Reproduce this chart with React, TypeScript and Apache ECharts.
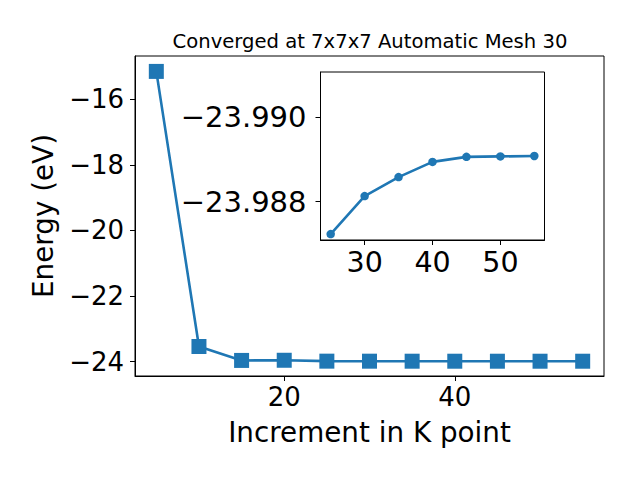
import React, { useEffect, useRef } from "react";
import * as echarts from "echarts";

const kPoints = [5, 10, 15, 20, 25, 30, 35, 40, 45, 50, 55];
const energies = [-15.15, -23.54, -23.965, -23.96, -23.98723, -23.98813, -23.98858, -23.98894, -23.98906, -23.98907, -23.98908];
const insetStart = 4; // inset shows K = 25..55
const mainYTicks = [-24, -22, -20, -18, -16];
const mainXTicks = [20, 40];
const insetXTicks = [30, 40, 50];
const insetYTicks = [-23.99, -23.988];
const titleText = "Converged at 7x7x7 Automatic Mesh 30";
const xName = "Increment in K point";
const yName = "Energy (eV)";

const FONT = "DejaVu Sans";
const BLUE = "#1f77b4";

const minus = (s: string) => s.replace("-", "\u2212");

export default function App() {
  const ref = useRef<HTMLDivElement>(null);
  useEffect(() => {
    if (!ref.current) return;
    const chart = echarts.init(ref.current, null, { renderer: "svg" });
    const mainData = kPoints.map((k, i) => [k, energies[i]]);
    const insetData = kPoints.slice(insetStart).map((k, i) => [k, energies[i + insetStart]]);
    const axisCommon = {
      splitLine: { show: false },
      axisLine: { show: true, onZero: false, lineStyle: { color: "#000", width: 1 } },
    };
    chart.setOption({
      animation: false,
      backgroundColor: "#fff",
      title: {
        text: titleText,
        left: 365,
        top: 26,
        textAlign: "center",
        textStyle: { fontFamily: FONT, fontSize: 19.6, fontWeight: "normal", color: "#000" },
      },
      grid: [
        { left: 135, top: 56, width: 469, height: 320, show: true, borderColor: "#000", borderWidth: 1, backgroundColor: "transparent" },
        { left: 320.5, top: 72, width: 224, height: 168, show: true, borderColor: "#000", borderWidth: 1, backgroundColor: "#fff" },
      ],
      xAxis: [
        {
          ...axisCommon,
          type: "value",
          gridIndex: 0,
          min: 2.5,
          max: 57.5,
          name: xName,
          nameLocation: "middle",
          nameGap: 42,
          nameTextStyle: { fontFamily: FONT, fontSize: 27.8, color: "#000" },
          axisTick: { show: true, inside: false, length: 5, customValues: mainXTicks, lineStyle: { color: "#000" } },
          axisLabel: { customValues: mainXTicks, margin: 8, fontFamily: FONT, fontSize: 26, color: "#000", formatter: (v: number) => minus(String(v)) },
        },
        {
          ...axisCommon,
          type: "value",
          gridIndex: 1,
          min: 23.5,
          max: 56.5,
          axisTick: { show: true, inside: false, length: 5, customValues: insetXTicks, lineStyle: { color: "#000" } },
          axisLabel: { customValues: insetXTicks, margin: 8, fontFamily: FONT, fontSize: 28.5, color: "#000", formatter: (v: number) => minus(String(v)) },
        },
      ],
      yAxis: [
        {
          ...axisCommon,
          type: "value",
          gridIndex: 0,
          min: -24.44,
          max: -14.68,
          name: yName,
          nameLocation: "middle",
          nameGap: 78,
          nameTextStyle: { fontFamily: FONT, fontSize: 27.8, color: "#000" },
          axisTick: { show: true, inside: false, length: 5, customValues: mainYTicks, lineStyle: { color: "#000" } },
          axisLabel: { customValues: mainYTicks, margin: 11, fontFamily: FONT, fontSize: 26, color: "#000", formatter: (v: number) => minus(String(v)) },
        },
        {
          ...axisCommon,
          type: "value",
          gridIndex: 1,
          inverse: true,
          min: -23.99107,
          max: -23.98709,
          axisTick: { show: true, inside: false, length: 5, customValues: insetYTicks, lineStyle: { color: "#000" } },
          axisLabel: { customValues: insetYTicks, margin: 14, fontFamily: FONT, fontSize: 29, color: "#000", formatter: (v: number) => minus(v.toFixed(3)) },
        },
      ],
      series: [
        {
          type: "line",
          xAxisIndex: 0,
          yAxisIndex: 0,
          data: mainData,
          symbol: "rect",
          symbolSize: 15,
          showAllSymbol: true,
          lineStyle: { color: BLUE, width: 2.6 },
          itemStyle: { color: BLUE },
          z: 3,
        },
        {
          type: "line",
          xAxisIndex: 1,
          yAxisIndex: 1,
          data: insetData,
          symbol: "circle",
          symbolSize: 8.5,
          showAllSymbol: true,
          lineStyle: { color: BLUE, width: 2.6 },
          itemStyle: { color: BLUE },
          z: 4,
        },
      ],
    });
    return () => chart.dispose();
  }, []);
  return <div ref={ref} style={{ position: "fixed", left: 0, top: 0, width: 640, height: 480 }} />;
}
